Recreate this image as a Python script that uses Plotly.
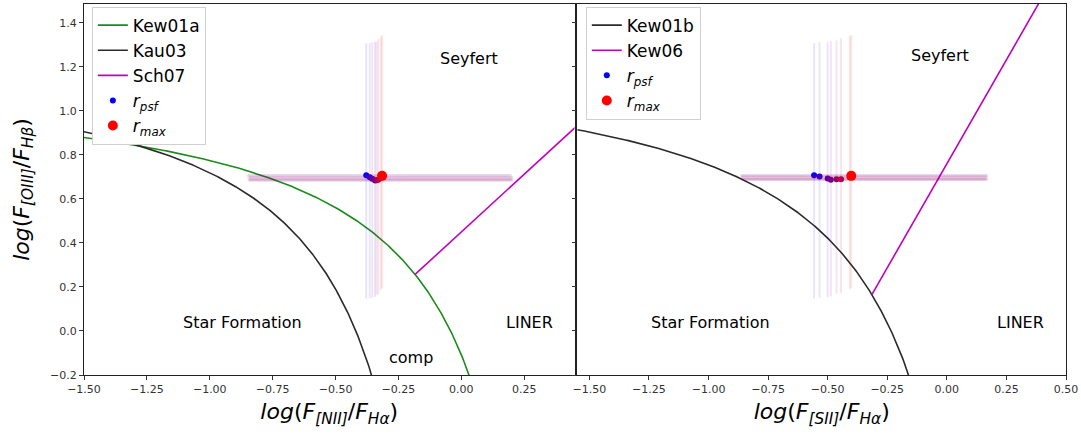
import numpy as np
import plotly.graph_objects as go

# ---------------- data ----------------
# demarcation lines: y = a/(x - b) + c  and straight lines y = m*x + q
kew01a_coef = [0.61, 0.47, 1.19]   # Kewley 2001, [NII]
kau03_coef = [0.61, 0.05, 1.30]    # Kauffmann 2003, [NII]
sch07_coef = [1.05, 0.45]          # Schawinski 2007
kew01b_coef = [0.72, 0.32, 1.30]   # Kewley 2001, [SII]
kew06_coef = [1.89, 0.76]          # Kewley 2006

# measured points (first = r_psf, last = r_max)
nii_x = [-0.378, -0.364, -0.354, -0.343, -0.337, -0.330, -0.320, -0.315]
nii_y = [0.708, 0.699, 0.692, 0.684, 0.685, 0.687, 0.696, 0.705]
nii_xerr_minus = [0.47, 0.48, 0.49, 0.50, 0.51, 0.52, 0.53, 0.54]
nii_xerr_plus = [0.58, 0.57, 0.56, 0.55, 0.54, 0.53, 0.52, 0.51]

sii_x = [-0.557, -0.534, -0.500, -0.487, -0.463, -0.444, -0.407, -0.401]
sii_y = [0.708, 0.702, 0.693, 0.687, 0.690, 0.690, 0.699, 0.705]
sii_xerr_minus = [0.31, 0.33, 0.36, 0.37, 0.40, 0.42, 0.46, 0.46]
sii_xerr_plus = [0.73, 0.70, 0.67, 0.66, 0.63, 0.61, 0.58, 0.57]

oiii_yerr_plus = [0.60, 0.61, 0.62, 0.63, 0.63, 0.64, 0.64, 0.64]
oiii_yerr_minus = [0.56, 0.55, 0.54, 0.53, 0.52, 0.52, 0.51, 0.51]

region_left = [("Seyfert", 0.03, 1.24), ("Star Formation", -0.87, 0.04),
               ("LINER", 0.27, 0.04), ("comp", -0.20, -0.12)]
region_right = [("Seyfert", -0.03, 1.25), ("Star Formation", -0.99, 0.04),
                ("LINER", 0.31, 0.04)]

# ---------------- helpers ----------------
def hyper(coef, x):
    a, b, c = coef
    return a / (x - b) + c


def intersect(hcoef, lcoef):
    a, b, c = hcoef
    m, q = lcoef
    # (m x + q - c)(x - b) = a
    roots = np.roots([m, (q - c) - m * b, -(q - c) * b - a])
    roots = np.real(roots[np.isreal(roots)])
    return roots[roots < b].max()


FONT = "DejaVu Sans"
GREEN = "#1a8c1a"
BLACK = "#2a2a2a"
MAG = "#c000c0"

fig = go.Figure()


def point_color(i, n, alpha=1.0):
    t = i / (n - 1)
    return f"rgba({int(255 * t)},0,{int(255 * (1 - t))},{alpha})"


def add_points(xs, ys, xm, xp, ym, yp, xa, ya):
    n = len(xs)
    for i in range(n):
        size = 10 if i == n - 1 else 6
        fig.add_trace(go.Scatter(
            x=[xs[i]], y=[ys[i]], mode="markers", xaxis=xa, yaxis=ya,
            marker=dict(color=point_color(i, n), size=size),
            error_x=dict(type="data", symmetric=False, array=[xp[i]],
                         arrayminus=[xm[i]], color=point_color(i, n, 0.1),
                         thickness=2.5, width=0),
            error_y=dict(type="data", symmetric=False, array=[yp[i]],
                         arrayminus=[ym[i]], color=point_color(i, n, 0.1),
                         thickness=2, width=0),
            showlegend=False, hoverinfo="skip"))


# ---------------- left panel ----------------
xl = np.linspace(-1.6, kew01a_coef[1] - 0.005, 600)
fig.add_trace(go.Scatter(x=xl, y=hyper(kew01a_coef, xl), mode="lines",
                         line=dict(color=GREEN, width=1.6), name="Kew01a",
                         legend="legend", xaxis="x", yaxis="y"))
xk = np.linspace(-1.6, kau03_coef[1] - 0.005, 600)
fig.add_trace(go.Scatter(x=xk, y=hyper(kau03_coef, xk), mode="lines",
                         line=dict(color=BLACK, width=1.6), name="Kau03",
                         legend="legend", xaxis="x", yaxis="y"))
x0 = intersect(kew01a_coef, sch07_coef)
xs7 = np.array([x0, 0.6])
fig.add_trace(go.Scatter(x=xs7, y=sch07_coef[0] * xs7 + sch07_coef[1], mode="lines",
                         line=dict(color=MAG, width=1.6), name="Sch07",
                         legend="legend", xaxis="x", yaxis="y"))

add_points(nii_x, nii_y, nii_xerr_minus, nii_xerr_plus,
           oiii_yerr_minus, oiii_yerr_plus, "x", "y")

# legend entries for points
for leg, xa, ya in [("legend", "x", "y"), ("legend2", "x2", "y2")]:
    fig.add_trace(go.Scatter(x=[None], y=[None], mode="markers", xaxis=xa, yaxis=ya,
                             marker=dict(color="blue", size=6),
                             name="<i>r<sub>psf</sub></i>", legend=leg))
    fig.add_trace(go.Scatter(x=[None], y=[None], mode="markers", xaxis=xa, yaxis=ya,
                             marker=dict(color="red", size=10),
                             name="<i>r<sub>max</sub></i>", legend=leg))

# ---------------- right panel ----------------
xb = np.linspace(-1.7, kew01b_coef[1] - 0.005, 600)
fig.add_trace(go.Scatter(x=xb, y=hyper(kew01b_coef, xb), mode="lines",
                         line=dict(color=BLACK, width=1.6), name="Kew01b",
                         legend="legend2", xaxis="x2", yaxis="y2"), )
x1 = intersect(kew01b_coef, kew06_coef)
xs6 = np.array([x1, 0.6])
fig.add_trace(go.Scatter(x=xs6, y=kew06_coef[0] * xs6 + kew06_coef[1], mode="lines",
                         line=dict(color=MAG, width=1.6), name="Kew06",
                         legend="legend2", xaxis="x2", yaxis="y2"))

add_points(sii_x, sii_y, sii_xerr_minus, sii_xerr_plus,
           oiii_yerr_minus, oiii_yerr_plus, "x2", "y2")

# legend order
order = {"Kew01a": 1, "Kau03": 2, "Sch07": 3, "Kew01b": 1, "Kew06": 2,
         "<i>r<sub>psf</sub></i>": 4, "<i>r<sub>max</sub></i>": 5}
for tr in fig.data:
    if tr.name in order:
        tr.legendrank = order[tr.name]

annots = []
for txt, x, y in region_left:
    annots.append(dict(text=txt, x=x, y=y, xref="x", yref="y", showarrow=False,
                       font=dict(family=FONT, size=16, color="black")))
for txt, x, y in region_right:
    annots.append(dict(text=txt, x=x, y=y, xref="x2", yref="y2", showarrow=False,
                       font=dict(family=FONT, size=16, color="black")))

axis_common = dict(showgrid=False, zeroline=False, showline=True, mirror=True,
                   linecolor="#222", linewidth=1, ticks="outside", ticklen=4,
                   tickcolor="#333", tickfont=dict(family=FONT, size=11, color="#333"))

fig.update_layout(
    width=1081, height=438,
    margin=dict(l=84, r=13, t=3, b=63),
    plot_bgcolor="white", paper_bgcolor="white",
    font=dict(family=FONT),
    xaxis=dict(domain=[0, 0.4995], range=[-1.5, 0.45], tick0=-1.5, dtick=0.25,
               tickformat=".2f", anchor="y",
               title=dict(text="<i>log</i>(<i>F</i><sub><i>[NII]</i></sub>/<i>F</i><sub><i>Hα</i></sub>)",
                          font=dict(family=FONT, size=22, color="black"), standoff=8),
               **axis_common),
    yaxis=dict(domain=[0, 1], range=[-0.2, 1.486], tick0=-0.2, dtick=0.2,
               tickformat=".1f", anchor="x",
               title=dict(text="<i>log</i>(<i>F</i><sub><i>[OIII]</i></sub>/<i>F</i><sub><i>Hβ</i></sub>)",
                          font=dict(family=FONT, size=22, color="black"), standoff=14),
               **axis_common),
    xaxis2=dict(domain=[0.5025, 1], range=[-1.55, 0.5], tick0=-1.5, dtick=0.25,
                tickformat=".2f", anchor="y2",
                title=dict(text="<i>log</i>(<i>F</i><sub><i>[SII]</i></sub>/<i>F</i><sub><i>Hα</i></sub>)",
                           font=dict(family=FONT, size=22, color="black"), standoff=8),
                **axis_common),
    yaxis2=dict(domain=[0, 1], range=[-0.2, 1.486], tick0=-0.2, dtick=0.2,
                anchor="x2", showticklabels=False, **axis_common),
    legend=dict(x=0.008, y=0.993, xanchor="left", yanchor="top",
                bgcolor="white", bordercolor="#d0d0d0", borderwidth=1,
                font=dict(family=FONT, size=17, color="black"), tracegroupgap=0),
    legend2=dict(x=0.511, y=0.993, xanchor="left", yanchor="top",
                 bgcolor="white", bordercolor="#d0d0d0", borderwidth=1,
                 font=dict(family=FONT, size=17, color="black"), tracegroupgap=0),
    annotations=annots,
)

fig.write_html("out.html")
